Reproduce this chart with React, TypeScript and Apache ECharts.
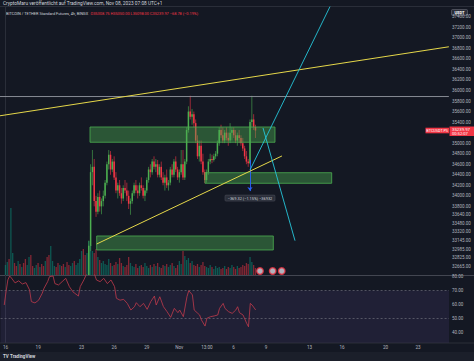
import React, { useEffect, useRef } from "react";
import * as echarts from "echarts";

// ---------- data (hours counted from Oct 16 2023 00:00 UTC+1, 4h bars) ----------
const firstBarHour = 1;
const barHours = 4;
const candleFirstBar = 46;

const opens = [31600, 33050, 34450, 34550, 33900, 33700, 33980, 33800, 33900, 34000, 34250, 34600, 34780, 34500, 34650, 34350, 34100, 34200, 34050, 33950, 34150, 34100, 34000, 33850, 33900, 34050, 34200, 34100, 34050, 34200, 34150, 34000, 34100, 34300, 34500, 34450, 34650, 34550, 34600, 34400, 34550, 34350, 34250, 34350, 34200, 34250, 34500, 34400, 34650, 34500, 34350, 34450, 34600, 34350, 34650, 35250, 35600, 35500, 35550, 35380, 35050, 34750, 34950, 34650, 34450, 34300, 34450, 34650, 34700, 34680, 34750, 34800, 35000, 35250, 35150, 35050, 35200, 35100, 35050, 35200, 35250, 35150, 35050, 35150, 35100, 35000, 34900, 34750, 34650, 34620, 35400, 35450, 35308.75];
const highs = [33150, 34600, 34870, 34700, 34000, 34050, 34100, 33950, 34100, 34300, 34650, 34870, 34850, 34700, 34750, 34450, 34250, 34300, 34150, 34200, 34300, 34250, 34100, 33950, 34100, 34250, 34300, 34200, 34250, 34350, 34200, 34150, 34350, 34550, 34600, 34700, 34750, 34700, 34680, 34600, 34650, 34450, 34400, 34500, 34300, 34550, 34600, 34700, 34750, 34550, 34500, 34870, 34870, 34700, 35300, 35700, 35900, 35650, 35600, 35450, 35150, 35050, 35050, 34800, 34500, 34500, 34700, 34800, 34780, 34800, 34850, 35050, 35300, 35350, 35300, 35250, 35300, 35200, 35380, 35300, 35300, 35250, 35200, 35250, 35150, 35100, 34950, 34850, 34700, 35450, 35900, 35550, 35350];
const lows = [31500, 32950, 34200, 33800, 33600, 33650, 33700, 33650, 33800, 33950, 34200, 34500, 34400, 34450, 34300, 34050, 33950, 34000, 33850, 33900, 34050, 33900, 33750, 33640, 33850, 34000, 34050, 33950, 34000, 34100, 33950, 33900, 34050, 34250, 34350, 34400, 34500, 34450, 34350, 34350, 34300, 34200, 34100, 34150, 34100, 34200, 34350, 34350, 34450, 34300, 34250, 34400, 34300, 34300, 34600, 35200, 35450, 35350, 35300, 35000, 34700, 34650, 34600, 34400, 34240, 34250, 34400, 34600, 34620, 34650, 34700, 34750, 34950, 35100, 35000, 35000, 35050, 34950, 35000, 35050, 35100, 35000, 34950, 35000, 34950, 34850, 34700, 34600, 34550, 34600, 35300, 35250, 35098];
const closes = [33050, 34450, 34550, 33900, 33700, 33980, 33800, 33900, 34000, 34250, 34600, 34780, 34500, 34650, 34350, 34100, 34200, 34050, 33950, 34150, 34100, 34000, 33850, 33900, 34050, 34200, 34100, 34050, 34200, 34150, 34000, 34100, 34300, 34500, 34450, 34650, 34550, 34600, 34400, 34550, 34350, 34250, 34350, 34200, 34250, 34500, 34400, 34650, 34500, 34350, 34450, 34600, 34350, 34650, 35250, 35600, 35500, 35550, 35380, 35050, 34750, 34950, 34650, 34450, 34300, 34450, 34650, 34700, 34680, 34750, 34800, 35000, 35250, 35150, 35050, 35200, 35100, 35050, 35200, 35250, 35150, 35050, 35150, 35100, 35000, 34900, 34750, 34650, 34620, 35400, 35450, 35308.75, 35239.97];

const volumeValues = [
  10, 13, 16, 67, 22, 12, 9, 14, 11, 8,
  12, 16, 10, 18, 20, 9, 7, 10, 12, 8,
  11, 9, 14, 18, 20, 29, 14, 9, 8, 12,
  10, 9, 11, 8, 13, 10, 9, 12, 14, 10,
  12, 16, 24, 26, 20, 22, 34, 30, 24, 22,
  26, 18, 15, 12, 14, 11, 10, 16, 12, 9,
  10, 13, 11, 17, 12, 9, 8, 10, 18, 12,
  9, 8, 11, 7, 9, 10, 8, 12, 9, 7,
  10, 8, 11, 9, 12, 8, 7, 10, 9, 11,
  8, 10, 12, 9, 7, 10, 14, 11, 24, 19,
  15, 17, 12, 14, 10, 9, 11, 8, 10, 13,
  9, 8, 7, 10, 8, 6, 9, 7, 8, 6,
  7, 9, 6, 8, 7, 10, 8, 6, 9, 7,
  8, 10, 9, 12, 11, 18, 13, 10, 7,
];
const earlyVolumeDirections = "uuduuddudu" + "dduudduudu" + "ddudduuudd" + "uddudduudu" + "uuuddu";

const rsiBars = [-1, 0, 1, 2, 3, 5, 7, 9, 11, 13, 14, 16, 18, 20, 21, 23, 24, 26, 27, 29, 31, 33, 35, 37, 38, 40, 41, 43, 44, 45, 47, 48, 50, 52, 54, 56, 58, 60, 61, 63, 65, 67, 69, 71, 72, 74, 76, 78, 80, 82, 83, 85, 87, 89, 91, 93, 95, 96, 98, 100, 101, 103, 104, 106, 107, 108, 110, 111, 113, 115, 117, 118, 120, 121, 123, 125, 127, 128, 129, 131, 133, 134, 135, 136, 138];
const rsiValues = [59.5, 69, 77.6, 80.5, 79, 75.5, 77, 74.7, 75.7, 70.4, 62, 61, 63, 68, 71.6, 76.4, 80, 80.5, 75, 74, 76.4, 78.8, 72.8, 69, 68, 66, 72.8, 77.6, 80.5, 83, 88, 85, 77.6, 76.4, 78.8, 75, 77.6, 72.8, 64.4, 63, 63.6, 60.7, 55.9, 58.3, 61.2, 58.3, 60.7, 56.4, 62, 66, 59.5, 65.5, 58.3, 54.7, 50.6, 57.1, 54, 55.9, 51.1, 65.5, 69.9, 66.8, 55.9, 53.5, 52.3, 48.7, 44.3, 49.9, 51.1, 51.6, 52.3, 57.1, 60.7, 57.1, 54.7, 53.5, 55.9, 58.3, 54, 52.3, 46.3, 43.8, 60.7, 59.5, 55.9];

const priceTicks = [37400, 37200, 37000, 36800, 36600, 36400, 36200, 36000, 35800, 35600, 35400, 35000, 34800, 34600, 34400, 34200, 34000, 33800, 33640, 33480, 33320, 33145, 32985, 32825, 32665];
const rsiTicks = [80, 70, 60, 50, 40];
const timeTickHours = [0, 72, 168, 240, 312, 384, 445, 504, 576, 672, 744, 840, 912];
const timeTickLabels = ["16", "19", "23", "26", "29", "Nov", "13:00", "6", "9", "13", "16", "20", "23"];

const zoneStartHours = [187.7, 441.6, 202.5];
const zoneEndHours = [596.1, 721.3, 592.4];
const zoneLowPrices = [35017, 34238, 32972];
const zoneHighPrices = [35307, 34439, 33238];

const yellowUpper = [[-11, 35520], [980, 36830]];
const yellowLower = [[202.5, 33086], [611.5, 34757]];
const cyanUp = [[540.9, 34491], [718, 37600]];
const cyanDown = [[569.7, 35288], [640.3, 33149]];
const resistanceLevel = [[-11, 35885], [980, 35885]];
const measureHour = 540.9;
const measureFrom = 34680;
const measureTo = 34090;
const measureText = "−369.32 (−1.15%) −36932";
const eventHours = [563, 591, 611];

const titleText = "CryptoMaru veröffentlicht auf TradingView.com, Nov 08, 2023 07:08 UTC+1";
const symbolText = "BITCOIN / TETHER Standard Futures, 4h, BINGX";
const ohlcText = "O35308.75 H35350.00 L35098.00 C35239.97 −68.78 (−0.19%)";
const countdownText = "00:52:07";

// ---------- layout / style ----------
const X_MIN = -11.04;
const X_MAX = 980.3;
const P_MIN = 32497;
const P_MAX = 37585;
const RSI_MIN = 32.3;
const RSI_MAX = 81.2;
const BG = "#141823";
const UP = "#4caf50";
const DOWN = "#f23645";
const TXT = "#b2b5be";
const FONT = "Roboto, 'Liberation Sans', sans-serif";
const CANDLE_W = 1.5;

const barHour = (j: number) => firstBarHour + barHours * j;

export default function App() {
  const ref = useRef<HTMLDivElement>(null);
  useEffect(() => {
    if (!ref.current) return;
    const chart = echarts.init(ref.current, undefined, { renderer: "svg" });

    const candleData = opens.map((o, k) => [barHour(candleFirstBar + k), o, closes[k], lows[k], highs[k]]);
    const volumeData = volumeValues.map((v, j) => {
      let up: boolean;
      if (j < candleFirstBar) up = earlyVolumeDirections[j] !== "d";
      else {
        const k = j - candleFirstBar;
        up = closes[k] >= opens[k];
      }
      return {
        value: [barHour(j), v],
        itemStyle: { color: up ? "rgba(8,153,129,0.5)" : "rgba(242,54,69,0.5)" },
      };
    });
    const rsiData = rsiBars.map((j, i) => [barHour(j), rsiValues[i]]);
    const zoneData = zoneStartHours.map((s, i) => [s, zoneEndHours[i], zoneLowPrices[i], zoneHighPrices[i]]);

    const lineSeries = (data: number[][], color: string, width: number, extra: any = {}) => ({
      type: "line",
      xAxisIndex: 0,
      yAxisIndex: 0,
      data,
      showSymbol: false,
      symbol: "none",
      lineStyle: { color, width },
      z: 6,
      clip: true,
      silent: true,
      ...extra,
    });

    const timeLabel = (v: number) => {
      const i = timeTickHours.indexOf(v);
      return i >= 0 ? timeTickLabels[i] : "";
    };

    chart.setOption({
      animation: false,
      backgroundColor: BG,
      grid: [
        { left: 0, top: 7, width: 449, height: 268 },
        { left: 0, top: 195, width: 449, height: 80 },
        { left: 0, top: 275, width: 449, height: 67.7 },
      ],
      xAxis: [
        { gridIndex: 0, type: "value", min: X_MIN, max: X_MAX, show: false },
        { gridIndex: 1, type: "value", min: X_MIN, max: X_MAX, show: false },
        {
          gridIndex: 2, type: "value", min: X_MIN, max: X_MAX,
          axisLine: { show: false }, axisTick: { show: false }, splitLine: { show: false },
          axisLabel: { customValues: timeTickHours, formatter: timeLabel, color: TXT, fontSize: 4.6, margin: 2, fontFamily: FONT },
        },
      ],
      yAxis: [
        {
          gridIndex: 0, type: "value", position: "right", min: P_MIN, max: P_MAX,
          axisLine: { show: true, lineStyle: { color: "#2a2e39", width: 1 } },
          axisTick: { show: false }, splitLine: { show: false },
          axisLabel: { customValues: priceTicks, formatter: (v: number) => v.toFixed(2), color: TXT, fontSize: 4.5, margin: 3, fontFamily: FONT },
        },
        { gridIndex: 1, type: "value", min: 0, max: 80, show: false },
        {
          gridIndex: 2, type: "value", position: "right", min: RSI_MIN, max: RSI_MAX,
          axisLine: { show: true, lineStyle: { color: "#2a2e39", width: 1 } },
          axisTick: { show: false }, splitLine: { show: false },
          axisLabel: { customValues: rsiTicks, formatter: (v: number) => v.toFixed(2), color: TXT, fontSize: 4.5, margin: 3, fontFamily: FONT },
        },
      ],
      series: [
        {
          type: "bar", xAxisIndex: 1, yAxisIndex: 1, data: volumeData, barWidth: 1.3, z: 1, silent: true,
        },
        {
          type: "custom", xAxisIndex: 0, yAxisIndex: 0, data: candleData, clip: true, z: 3, silent: true,
          encode: { x: 0, y: [1, 2, 3, 4] },
          renderItem: (params: any, api: any) => {
            const x = api.value(0);
            const o = api.value(1);
            const c = api.value(2);
            const pO = api.coord([x, o]);
            const pC = api.coord([x, c]);
            const pL = api.coord([x, api.value(3)]);
            const pH = api.coord([x, api.value(4)]);
            const color = c >= o ? UP : DOWN;
            const top = Math.min(pO[1], pC[1]);
            const h = Math.max(Math.abs(pO[1] - pC[1]), 0.6);
            return {
              type: "group",
              children: [
                { type: "line", shape: { x1: pO[0], y1: pH[1], x2: pO[0], y2: pL[1] }, style: { stroke: color, lineWidth: 0.6 } },
                { type: "rect", shape: { x: pO[0] - CANDLE_W / 2, y: top, width: CANDLE_W, height: h }, style: { fill: color } },
              ],
            };
          },
        },
        {
          type: "custom", xAxisIndex: 0, yAxisIndex: 0, data: zoneData, z: 4, silent: true, clip: true,
          encode: { x: [0, 1], y: [2, 3] },
          renderItem: (params: any, api: any) => {
            const p1 = api.coord([api.value(0), api.value(3)]);
            const p2 = api.coord([api.value(1), api.value(2)]);
            return {
              type: "rect",
              shape: { x: p1[0], y: p1[1], width: p2[0] - p1[0], height: p2[1] - p1[1] },
              style: { fill: "rgba(76,175,80,0.42)", stroke: "#4caf50", lineWidth: 0.8 },
            };
          },
        },
        lineSeries(resistanceLevel, "#9598a1", 0.9, {
          markLine: {
            silent: true, symbol: ["none", "arrow"], symbolSize: 4,
            lineStyle: { color: "#2962ff", width: 0.9, type: "solid" },
            label: { show: false },
            data: [[{ coord: [measureHour, measureFrom] }, { coord: [measureHour, measureTo] }]],
          },
        }),
        lineSeries(yellowUpper, "#e6d84a", 1),
        lineSeries(yellowLower, "#e6d84a", 1),
        lineSeries(cyanUp, "#26c6da", 0.9),
        lineSeries(cyanDown, "#26c6da", 0.9),
        {
          type: "scatter", xAxisIndex: 1, yAxisIndex: 1, silent: true, z: 7,
          data: eventHours.map((h) => [h, 0]),
          symbol: "circle", symbolSize: 6.5, symbolOffset: [0, -4],
          itemStyle: { color: "#d8dbe4", borderColor: "#f23645", borderWidth: 1.4 },
        },
        {
          type: "line", xAxisIndex: 2, yAxisIndex: 2, data: rsiData, showSymbol: false, symbol: "none",
          lineStyle: { color: "#c23b4c", width: 0.8 }, z: 5, clip: true, silent: true,
          markArea: {
            silent: true,
            itemStyle: { color: "rgba(126,87,194,0.12)" },
            data: [[{ yAxis: 70 }, { yAxis: RSI_MIN }]],
          },
          markLine: {
            silent: true, symbol: "none", label: { show: false },
            lineStyle: { color: "#787b86", type: [2, 2], width: 0.6 },
            data: [{ yAxis: 70 }, { yAxis: 50 }],
          },
        },
      ],
    });

    const lastPx = chart.convertToPixel({ xAxisIndex: 0, yAxisIndex: 0 }, [0, closes[closes.length - 1]]) as number[];
    const mEnd = chart.convertToPixel({ xAxisIndex: 0, yAxisIndex: 0 }, [measureHour, measureTo]) as number[];
    const yl = lastPx[1];

    chart.setOption({
      graphic: [
        { type: "line", shape: { x1: 0, y1: 6.5, x2: 474, y2: 6.5 }, style: { stroke: "#2a2e39", lineWidth: 1 }, silent: true },
        { type: "line", shape: { x1: 0, y1: 275.5, x2: 474, y2: 275.5 }, style: { stroke: "#434651", lineWidth: 1 }, silent: true },
        { type: "line", shape: { x1: 0, y1: 343, x2: 474, y2: 343 }, style: { stroke: "#2a2e39", lineWidth: 1 }, silent: true },
        { type: "rect", shape: { x: 0, y: 352, width: 474, height: 9 }, style: { fill: "#1b1f2a" }, silent: true },
        { type: "text", left: 3, top: 1, style: { text: titleText, fill: "#d1d4dc", fontSize: 4.8, fontFamily: FONT }, silent: true },
        { type: "text", left: 6, top: 11, style: { text: symbolText, fill: "#d1d4dc", fontSize: 3.9, fontFamily: FONT }, silent: true },
        { type: "text", left: 90.5, top: 11, style: { text: ohlcText, fill: "#f23645", fontSize: 3.9, fontFamily: FONT }, silent: true },
        { type: "rect", shape: { x: 451.5, y: 9.5, width: 16, height: 6, r: 1 }, style: { fill: "#2a2e39", stroke: "#787b86", lineWidth: 0.5 }, silent: true },
        { type: "text", x: 459.5, y: 12.5, style: { text: "USDT", fill: "#ffffff", fontSize: 4, fontWeight: "bold", fontFamily: FONT, align: "center", verticalAlign: "middle" }, silent: true },
        { type: "rect", shape: { x: 425.5, y: yl - 2.8, width: 23.5, height: 5.6 }, style: { fill: "#f23645" }, silent: true },
        { type: "text", x: 437.2, y: yl, style: { text: "BTCUSDT.PS", fill: "#ffffff", fontSize: 3.8, fontFamily: FONT, align: "center", verticalAlign: "middle" }, silent: true },
        { type: "rect", shape: { x: 449.5, y: yl - 4, width: 24.5, height: 9.5 }, style: { fill: "#f23645" }, silent: true },
        { type: "text", x: 452, y: yl - 1.4, style: { text: closes[closes.length - 1].toFixed(2), fill: "#ffffff", fontSize: 4.3, fontFamily: FONT, verticalAlign: "middle" }, silent: true },
        { type: "text", x: 452, y: yl + 3, style: { text: countdownText, fill: "#ffffff", fontSize: 4.1, fontFamily: FONT, verticalAlign: "middle" }, silent: true },
        { type: "rect", shape: { x: mEnd[0] - 25, y: mEnd[1] + 4, width: 50, height: 6, r: 1 }, style: { fill: "#2a2e39", stroke: "#50535e", lineWidth: 0.5 }, silent: true },
        { type: "text", x: mEnd[0], y: mEnd[1] + 7, style: { text: measureText, fill: "#d1d4dc", fontSize: 3.9, fontFamily: FONT, align: "center", verticalAlign: "middle" }, silent: true },
        { type: "text", x: 3, y: 356.5, style: { text: "TV", fill: "#d1d4dc", fontSize: 4.5, fontWeight: "bold", fontFamily: FONT, verticalAlign: "middle" }, silent: true },
        { type: "text", x: 10, y: 356.5, style: { text: "TradingView", fill: "#d1d4dc", fontSize: 4.5, fontWeight: "bold", fontFamily: FONT, verticalAlign: "middle" }, silent: true },
      ],
    });

    return () => chart.dispose();
  }, []);

  return <div ref={ref} style={{ position: "fixed", left: 0, top: 0, width: 474, height: 361 }} />;
}
